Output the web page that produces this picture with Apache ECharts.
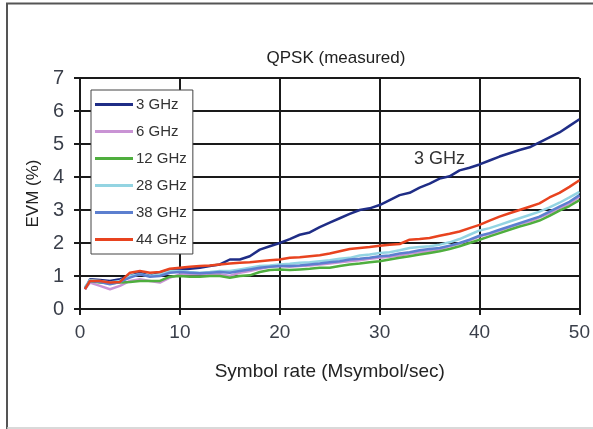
<!DOCTYPE html>
<html><head><meta charset="utf-8">
<script src="https://cdn.jsdelivr.net/npm/echarts@6/dist/echarts.min.js"></script>
<style>html,body{margin:0;padding:0;background:#fff}#c{width:593px;height:429px}</style>
</head><body><div id="c"></div>
<script>
const xs = [0.5,1,2,3,4,5,6,7,8,9,10,11,12,13,14,15,16,17,18,19,20,21,22,23,24,25,26,27,28,29,30,31,32,33,34,35,36,37,38,39,40,41,42,43,44,45,46,47,48,49,50];
const ghz3  = [0.6,0.9,0.88,0.85,0.9,1.0,1.1,1.0,1.1,1.2,1.2,1.22,1.25,1.3,1.35,1.5,1.5,1.6,1.8,1.9,2.0,2.12,2.25,2.32,2.48,2.62,2.75,2.88,3.0,3.05,3.15,3.3,3.45,3.52,3.68,3.8,3.95,4.02,4.2,4.28,4.38,4.5,4.62,4.72,4.82,4.9,5.05,5.2,5.35,5.55,5.75];
const ghz6  = [0.6,0.8,0.7,0.6,0.7,0.85,0.9,0.85,0.8,0.95,1.05,1.05,1.05,1.05,1.05,1.0,1.1,1.15,1.22,1.28,1.3,1.28,1.3,1.32,1.35,1.38,1.42,1.45,1.48,1.52,1.55,1.58,1.62,1.68,1.72,1.75,1.82,1.9,1.98,2.08,2.2,2.28,2.38,2.48,2.58,2.65,2.78,2.9,3.05,3.2,3.4];
const ghz12 = [0.65,0.85,0.8,0.78,0.8,0.82,0.85,0.85,0.85,0.98,1.0,0.98,0.98,1.0,1.0,0.95,1.0,1.02,1.12,1.18,1.2,1.18,1.2,1.22,1.25,1.25,1.3,1.35,1.38,1.42,1.45,1.5,1.55,1.6,1.65,1.7,1.75,1.82,1.9,2.0,2.1,2.2,2.3,2.4,2.5,2.58,2.68,2.82,2.98,3.12,3.3];
const ghz28 = [0.65,0.88,0.85,0.8,0.85,1.0,1.05,1.0,1.05,1.15,1.15,1.12,1.1,1.12,1.15,1.15,1.2,1.25,1.3,1.32,1.35,1.37,1.4,1.42,1.45,1.48,1.52,1.55,1.62,1.65,1.7,1.72,1.78,1.85,1.88,1.9,1.95,2.02,2.12,2.25,2.38,2.45,2.55,2.65,2.75,2.85,2.95,3.08,3.22,3.38,3.55];
const ghz38 = [0.62,0.85,0.82,0.75,0.82,0.95,1.05,0.98,1.0,1.1,1.12,1.1,1.08,1.1,1.12,1.1,1.15,1.2,1.25,1.28,1.3,1.3,1.32,1.35,1.38,1.42,1.45,1.5,1.52,1.55,1.6,1.62,1.68,1.72,1.78,1.82,1.85,1.92,2.0,2.1,2.22,2.3,2.4,2.5,2.6,2.7,2.8,2.95,3.1,3.25,3.45];
const ghz44 = [0.6,0.85,0.85,0.8,0.82,1.1,1.15,1.1,1.12,1.22,1.25,1.28,1.3,1.32,1.35,1.38,1.4,1.42,1.45,1.48,1.5,1.55,1.57,1.6,1.63,1.68,1.75,1.82,1.85,1.88,1.92,1.95,1.97,2.1,2.12,2.15,2.22,2.28,2.35,2.45,2.55,2.68,2.8,2.9,3.0,3.1,3.2,3.38,3.52,3.7,3.9];
const seriesNames = ['3 GHz','6 GHz','12 GHz','28 GHz','38 GHz','44 GHz'];
const seriesData = [ghz3, ghz6, ghz12, ghz28, ghz38, ghz44];
const colors = ['#1f2d86','#c993d4','#4fae3e','#93d4e2','#5c7fcf','#e8431f'];
const annotation = {text:'3 GHz', x:36, y:4.55};

const FONT = '"Liberation Sans", Arial, sans-serif';
const chart = echarts.init(document.getElementById('c'), null, {renderer:'canvas'});
const series = seriesNames.map((n,i)=>({
  name:n, type:'line', showSymbol:false, symbol:'none',
  data: xs.map((x,j)=>[x, seriesData[i][j]]),
  lineStyle:{color:colors[i], width:2.5}, itemStyle:{color:colors[i]},
  z: 2+i, animation:false
}));
series[0].markPoint = {
  symbol:'circle', symbolSize:0, animation:false,
  data:[{coord:[annotation.x, annotation.y]}],
  label:{show:true, formatter:annotation.text, position:'inside', color:'#333', fontSize:18, fontFamily:FONT}
};
chart.setOption({
  animation:false,
  backgroundColor:'#fff',
  title:{text:'QPSK (measured)', left:331, top:45, textAlign:'center',
    textStyle:{fontFamily:FONT, fontSize:17, fontWeight:'normal', color:'#222'}},
  grid:{left:80, right:12, top:78, bottom:120},
  legend:{orient:'vertical', left:91, top:90, data:seriesNames,
    icon:'rect', itemWidth:38, itemHeight:3, itemGap:12,
    padding:[7,6,7,4], backgroundColor:'#fff', borderColor:'#444', borderWidth:1,
    textStyle:{fontFamily:FONT, fontSize:15, color:'#333', padding:[0,0,0,-2]}},
  xAxis:{type:'value', min:0, max:50, interval:10,
    name:'Symbol rate (Msymbol/sec)', nameLocation:'middle', nameGap:53,
    nameTextStyle:{fontFamily:FONT, fontSize:19, color:'#222'},
    axisLine:{show:true, lineStyle:{color:'#1a1a1a', width:2}},
    axisTick:{show:true, length:6, lineStyle:{color:'#1a1a1a', width:2}},
    axisLabel:{fontFamily:FONT, fontSize:19, color:'#3a3f4a', margin:14},
    splitLine:{show:true, lineStyle:{color:'#1a1a1a', width:2}}},
  yAxis:{type:'value', min:0, max:7, interval:1,
    name:'EVM (%)', nameLocation:'middle', nameGap:37, nameRotate:90,
    nameTextStyle:{fontFamily:FONT, fontSize:17, color:'#222'},
    axisLine:{show:true, lineStyle:{color:'#1a1a1a', width:2}},
    axisTick:{show:true, length:6, lineStyle:{color:'#1a1a1a', width:2}},
    axisLabel:{fontFamily:FONT, fontSize:20, color:'#3a3f4a', margin:16},
    splitLine:{show:true, lineStyle:{color:'#1a1a1a', width:2}}},
  graphic:[
    {type:'line', shape:{x1:7, y1:3, x2:7, y2:429}, style:{stroke:'#555', lineWidth:2}, silent:true},
    {type:'line', shape:{x1:6, y1:3.5, x2:593, y2:3.5}, style:{stroke:'#555', lineWidth:2}, silent:true},
    {type:'line', shape:{x1:7, y1:428, x2:593, y2:428}, style:{stroke:'#ccc', lineWidth:1.5}, silent:true}
  ],
  series: series
});
</script></body></html>
